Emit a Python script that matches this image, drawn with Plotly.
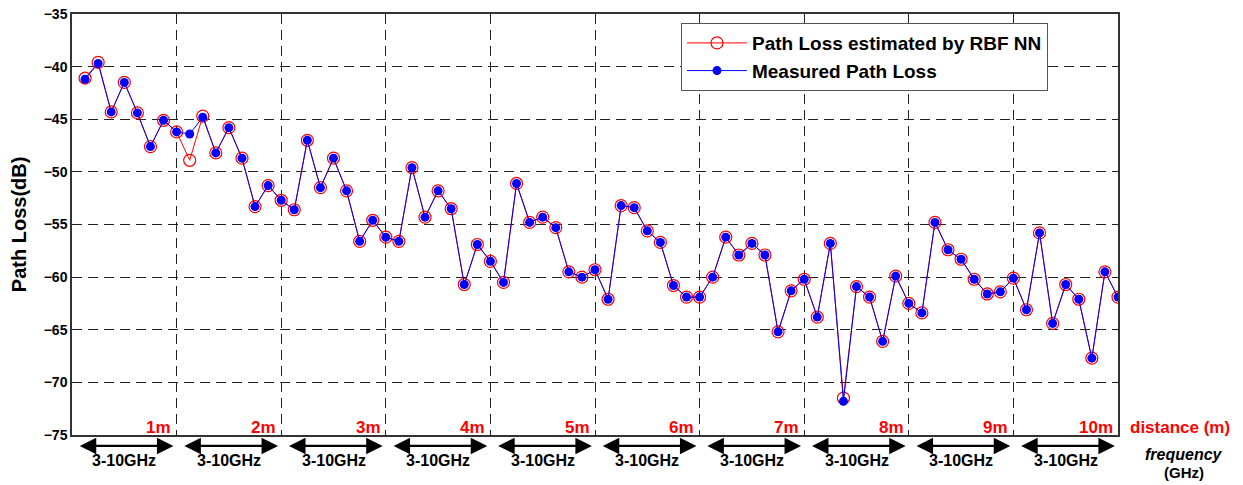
import plotly.graph_objects as go

# ---------------- data ----------------
distances_m = [1, 2, 3, 4, 5, 6, 7, 8, 9, 10]
frequencies_ghz = [3, 4, 5, 6, 7, 8, 9, 10]
distance_labels = ["1m", "2m", "3m", "4m", "5m", "6m", "7m", "8m", "9m", "10m"]
band_label = "3-10GHz"
y_ticks = [-75, -70, -65, -60, -55, -50, -45, -40, -35]

measured_pl = [
    -41.2, -39.7, -44.3, -41.5, -44.4, -47.6, -45.1, -46.2,
    -46.4, -44.8, -48.2, -45.8, -48.7, -53.3, -51.3, -52.7,
    -53.6, -47.0, -51.5, -48.7, -51.8, -56.6, -54.6, -56.2,
    -56.6, -49.6, -54.3, -51.8, -53.5, -60.7, -56.9, -58.5,
    -60.5, -51.1, -54.8, -54.3, -55.3, -59.5, -60.0, -59.3,
    -62.1, -53.2, -53.4, -55.6, -56.7, -60.8, -61.9, -61.9,
    -60.0, -56.2, -57.9, -56.8, -57.9, -65.2, -61.3, -60.2,
    -63.8, -56.8, -71.8, -60.9, -61.9, -66.1, -59.9, -62.5,
    -63.4, -54.8, -57.4, -58.3, -60.2, -61.6, -61.4, -60.1,
    -63.1, -55.8, -64.4, -60.7, -62.1, -67.7, -59.5, -61.9,
]
estimated_pl = [
    -41.1, -39.6, -44.3, -41.5, -44.4, -47.6, -45.1, -46.2,
    -48.9, -44.7, -48.2, -45.8, -48.7, -53.3, -51.3, -52.7,
    -53.6, -47.0, -51.5, -48.7, -51.8, -56.6, -54.6, -56.2,
    -56.6, -49.6, -54.3, -51.8, -53.5, -60.7, -56.9, -58.5,
    -60.5, -51.1, -54.8, -54.3, -55.3, -59.5, -60.0, -59.3,
    -62.1, -53.2, -53.4, -55.6, -56.7, -60.8, -61.9, -61.9,
    -60.0, -56.2, -57.9, -56.8, -57.9, -65.2, -61.3, -60.2,
    -63.8, -56.8, -71.5, -60.9, -61.9, -66.1, -59.9, -62.5,
    -63.4, -54.8, -57.4, -58.3, -60.2, -61.6, -61.4, -60.1,
    -63.1, -55.8, -64.4, -60.7, -62.1, -67.7, -59.5, -61.9,
]

# x position: distance segment + frequency step inside the segment
n_f = len(frequencies_ghz)
x_pos = [(d - 1) + (f - frequencies_ghz[0] + 1) / n_f
         for d in distances_m for f in frequencies_ghz]

FONT = "Arial, Liberation Sans, Helvetica, sans-serif"

fig = go.Figure()
fig.add_trace(go.Scatter(
    x=x_pos, y=estimated_pl, mode="lines+markers",
    name="Path Loss estimated by RBF NN",
    line=dict(color="red", width=1),
    marker=dict(symbol="circle-open", size=12, color="red", line=dict(width=1.2)),
))
fig.add_trace(go.Scatter(
    x=x_pos, y=measured_pl, mode="lines+markers",
    name="Measured Path Loss",
    line=dict(color="blue", width=1),
    marker=dict(symbol="circle", size=9, color="blue"),
))

annotations = []
for d, lab in zip(distances_m, distance_labels):
    # red distance label at bottom right of each segment
    annotations.append(dict(
        x=d - 0.03, y=0.019, xref="x", yref="paper", xanchor="right", yanchor="middle",
        text=lab, showarrow=False,
        font=dict(family=FONT, size=17, color="red", weight="bold"),
    ))
    # double arrow spanning the frequency band
    annotations.append(dict(
        x=d - 0.03, y=-0.026, xref="x", yref="paper",
        ax=d - 1 + 0.06, ay=0, axref="x", ayref="pixel",
        text="", showarrow=True, arrowside="end+start",
        arrowhead=2, arrowsize=1.5, arrowwidth=2.2, arrowcolor="black",
    ))
    annotations.append(dict(
        x=d - 0.5, y=-0.06, xref="x", yref="paper", xanchor="center", yanchor="middle",
        text=band_label, showarrow=False,
        font=dict(family=FONT, size=16, color="black", weight="bold"),
    ))

annotations.append(dict(
    x=1.01, y=0.019, xref="paper", yref="paper", xanchor="left", yanchor="middle",
    text="distance (m)", showarrow=False,
    font=dict(family=FONT, size=17, color="red", weight="bold"),
))
annotations.append(dict(
    x=1.063, y=-0.047, xref="paper", yref="paper", xanchor="center", yanchor="middle",
    text="<i>frequency</i>", showarrow=False,
    font=dict(family=FONT, size=16, color="black", weight="bold"),
))
annotations.append(dict(
    x=1.063, y=-0.088, xref="paper", yref="paper", xanchor="center", yanchor="middle",
    text="(GHz)", showarrow=False,
    font=dict(family=FONT, size=15, color="black", weight="bold"),
))
annotations.append(dict(
    x=-0.051, y=0.5, xref="paper", yref="paper", xanchor="center", yanchor="middle",
    text="Path Loss(dB)", textangle=-90, showarrow=False,
    font=dict(family=FONT, size=20, color="black", weight="bold"),
))

fig.update_layout(
    width=1243, height=485,
    margin=dict(l=72, r=125, t=14, b=50, autoexpand=False),
    paper_bgcolor="white", plot_bgcolor="white",
    font=dict(family=FONT, color="black"),
    showlegend=True,
    legend=dict(
        x=0.582, y=0.979, xanchor="left", yanchor="top",
        bgcolor="white", bordercolor="#555", borderwidth=1.2,
        font=dict(family=FONT, size=19, color="black", weight="bold"),
        itemwidth=60, tracegroupgap=0,
    ),
    annotations=annotations,
)
fig.update_xaxes(
    range=[0, 10], tickvals=distances_m[:-1], showticklabels=False, ticks="",
    automargin=False,
    showgrid=True, gridcolor="#222", gridwidth=1, griddash="10px,6px",
    showline=True, mirror=True, linecolor="#333", linewidth=1.5, zeroline=False,
)
fig.update_yaxes(
    range=[-75, -35], tickvals=y_ticks, ticks="", automargin=False,
    tickfont=dict(family=FONT, size=14, color="black", weight="bold"),
    showgrid=True, gridcolor="#222", gridwidth=1, griddash="10px,6px",
    showline=True, mirror=True, linecolor="#333", linewidth=1.5, zeroline=False,
)

fig.write_html(
    "out.html",
    config={"displayModeBar": False},
    post_script="document.body.style.margin='0px';document.body.style.overflow='hidden';",
)
